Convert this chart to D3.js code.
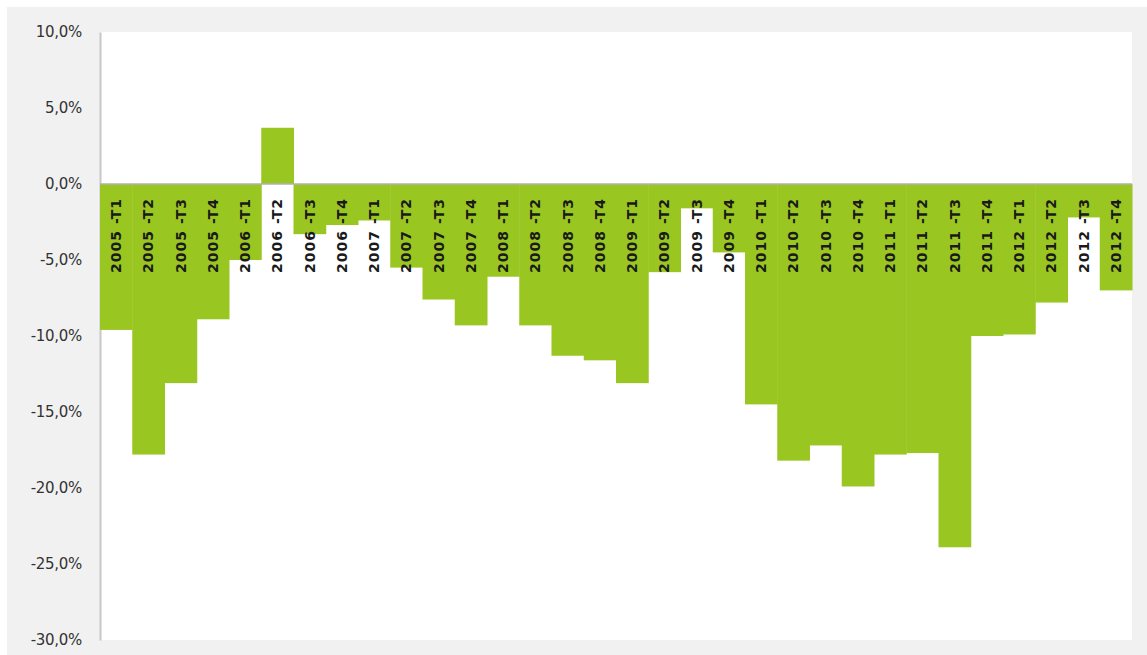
<!DOCTYPE html>
<html>
<head>
<meta charset="utf-8">
<script src="https://cdn.jsdelivr.net/npm/d3@7"></script>
<style>
  body { margin: 0; background: #ffffff; }
  svg { display: block; }
  .axis text { font-family: "DejaVu Sans", sans-serif; font-size: 15px; fill: #333; letter-spacing: -0.3px; }
  .lbl { font-family: "DejaVu Sans", sans-serif; font-size: 14px; font-weight: bold; fill: #1a1a1a; letter-spacing: 1px; }
</style>
</head>
<body>
<svg id="chart" width="1147" height="655"></svg>
<script>
var quarters = ["2005 -T1","2005 -T2","2005 -T3","2005 -T4",
                "2006 -T1","2006 -T2","2006 -T3","2006 -T4",
                "2007 -T1","2007 -T2","2007 -T3","2007 -T4",
                "2008 -T1","2008 -T2","2008 -T3","2008 -T4",
                "2009 -T1","2009 -T2","2009 -T3","2009 -T4",
                "2010 -T1","2010 -T2","2010 -T3","2010 -T4",
                "2011 -T1","2011 -T2","2011 -T3","2011 -T4",
                "2012 -T1","2012 -T2","2012 -T3","2012 -T4"];
var values = [-9.6, -17.8, -13.1, -8.9,
              -5.0, 3.7, -3.3, -2.7,
              -2.4, -5.5, -7.6, -9.3,
              -6.1, -9.3, -11.3, -11.6,
              -13.1, -5.8, -1.6, -4.5,
              -14.5, -18.2, -17.2, -19.9,
              -17.8, -17.7, -23.9, -10.0,
              -9.9, -7.8, -2.2, -7.0];
var yTicks = [10, 5, 0, -5, -10, -15, -20, -25, -30];

var svg = d3.select('#chart'),
    WIDTH = 1147, HEIGHT = 655,
    MARGINS = { top: 32, right: 15, bottom: 15, left: 100 };

// grey frame behind the plot
svg.append('rect')
   .attr('x', 7).attr('y', 7)
   .attr('width', WIDTH - 7).attr('height', HEIGHT - 7)
   .attr('fill', '#f1f1f1');

svg.append('rect')
   .attr('x', MARGINS.left).attr('y', MARGINS.top)
   .attr('width', WIDTH - MARGINS.right - MARGINS.left)
   .attr('height', HEIGHT - MARGINS.bottom - MARGINS.top)
   .attr('fill', '#ffffff');

var xScale = d3.scaleBand()
    .domain(quarters)
    .range([MARGINS.left, WIDTH - MARGINS.right])
    .padding(0);

var yScale = d3.scaleLinear()
    .domain([-30, 10])
    .range([HEIGHT - MARGINS.bottom, MARGINS.top]);

var fmt = function(d) { return d3.format('.1f')(d).replace('.', ',').replace('\u2212', '-') + '%'; };

var yAxis = d3.axisLeft(yScale).tickValues(yTicks).tickFormat(fmt).tickSize(0).tickPadding(18);

var gy = svg.append('g')
    .attr('class', 'axis')
    .attr('transform', 'translate(' + MARGINS.left + ',0)')
    .call(yAxis);
gy.select('.domain').attr('stroke', '#c8c8c8').attr('stroke-width', 2);

svg.selectAll('.bar')
   .data(values)
   .enter().append('rect')
   .attr('class', 'bar')
   .attr('x', function(d, i) { return xScale(quarters[i]); })
   .attr('width', xScale.bandwidth() + 0.5)
   .attr('y', function(d) { return yScale(Math.max(0, d)); })
   .attr('height', function(d) { return Math.abs(yScale(d) - yScale(0)); })
   .attr('fill', '#9ac622');

// zero line
svg.append('line')
   .attr('x1', MARGINS.left).attr('x2', WIDTH - MARGINS.right)
   .attr('y1', yScale(0)).attr('y2', yScale(0))
   .attr('stroke', '#b0b0b0').attr('stroke-width', 1.5);

svg.selectAll('.lbl')
   .data(quarters)
   .enter().append('text')
   .attr('class', 'lbl')
   .attr('text-anchor', 'end')
   .attr('transform', function(d) {
       var x = xScale(d) + xScale.bandwidth() / 2 + 5;
       return 'translate(' + x + ',' + (yScale(0) + 14) + ') rotate(-90)';
   })
   .text(function(d) { return d; });
</script>
</body>
</html>
